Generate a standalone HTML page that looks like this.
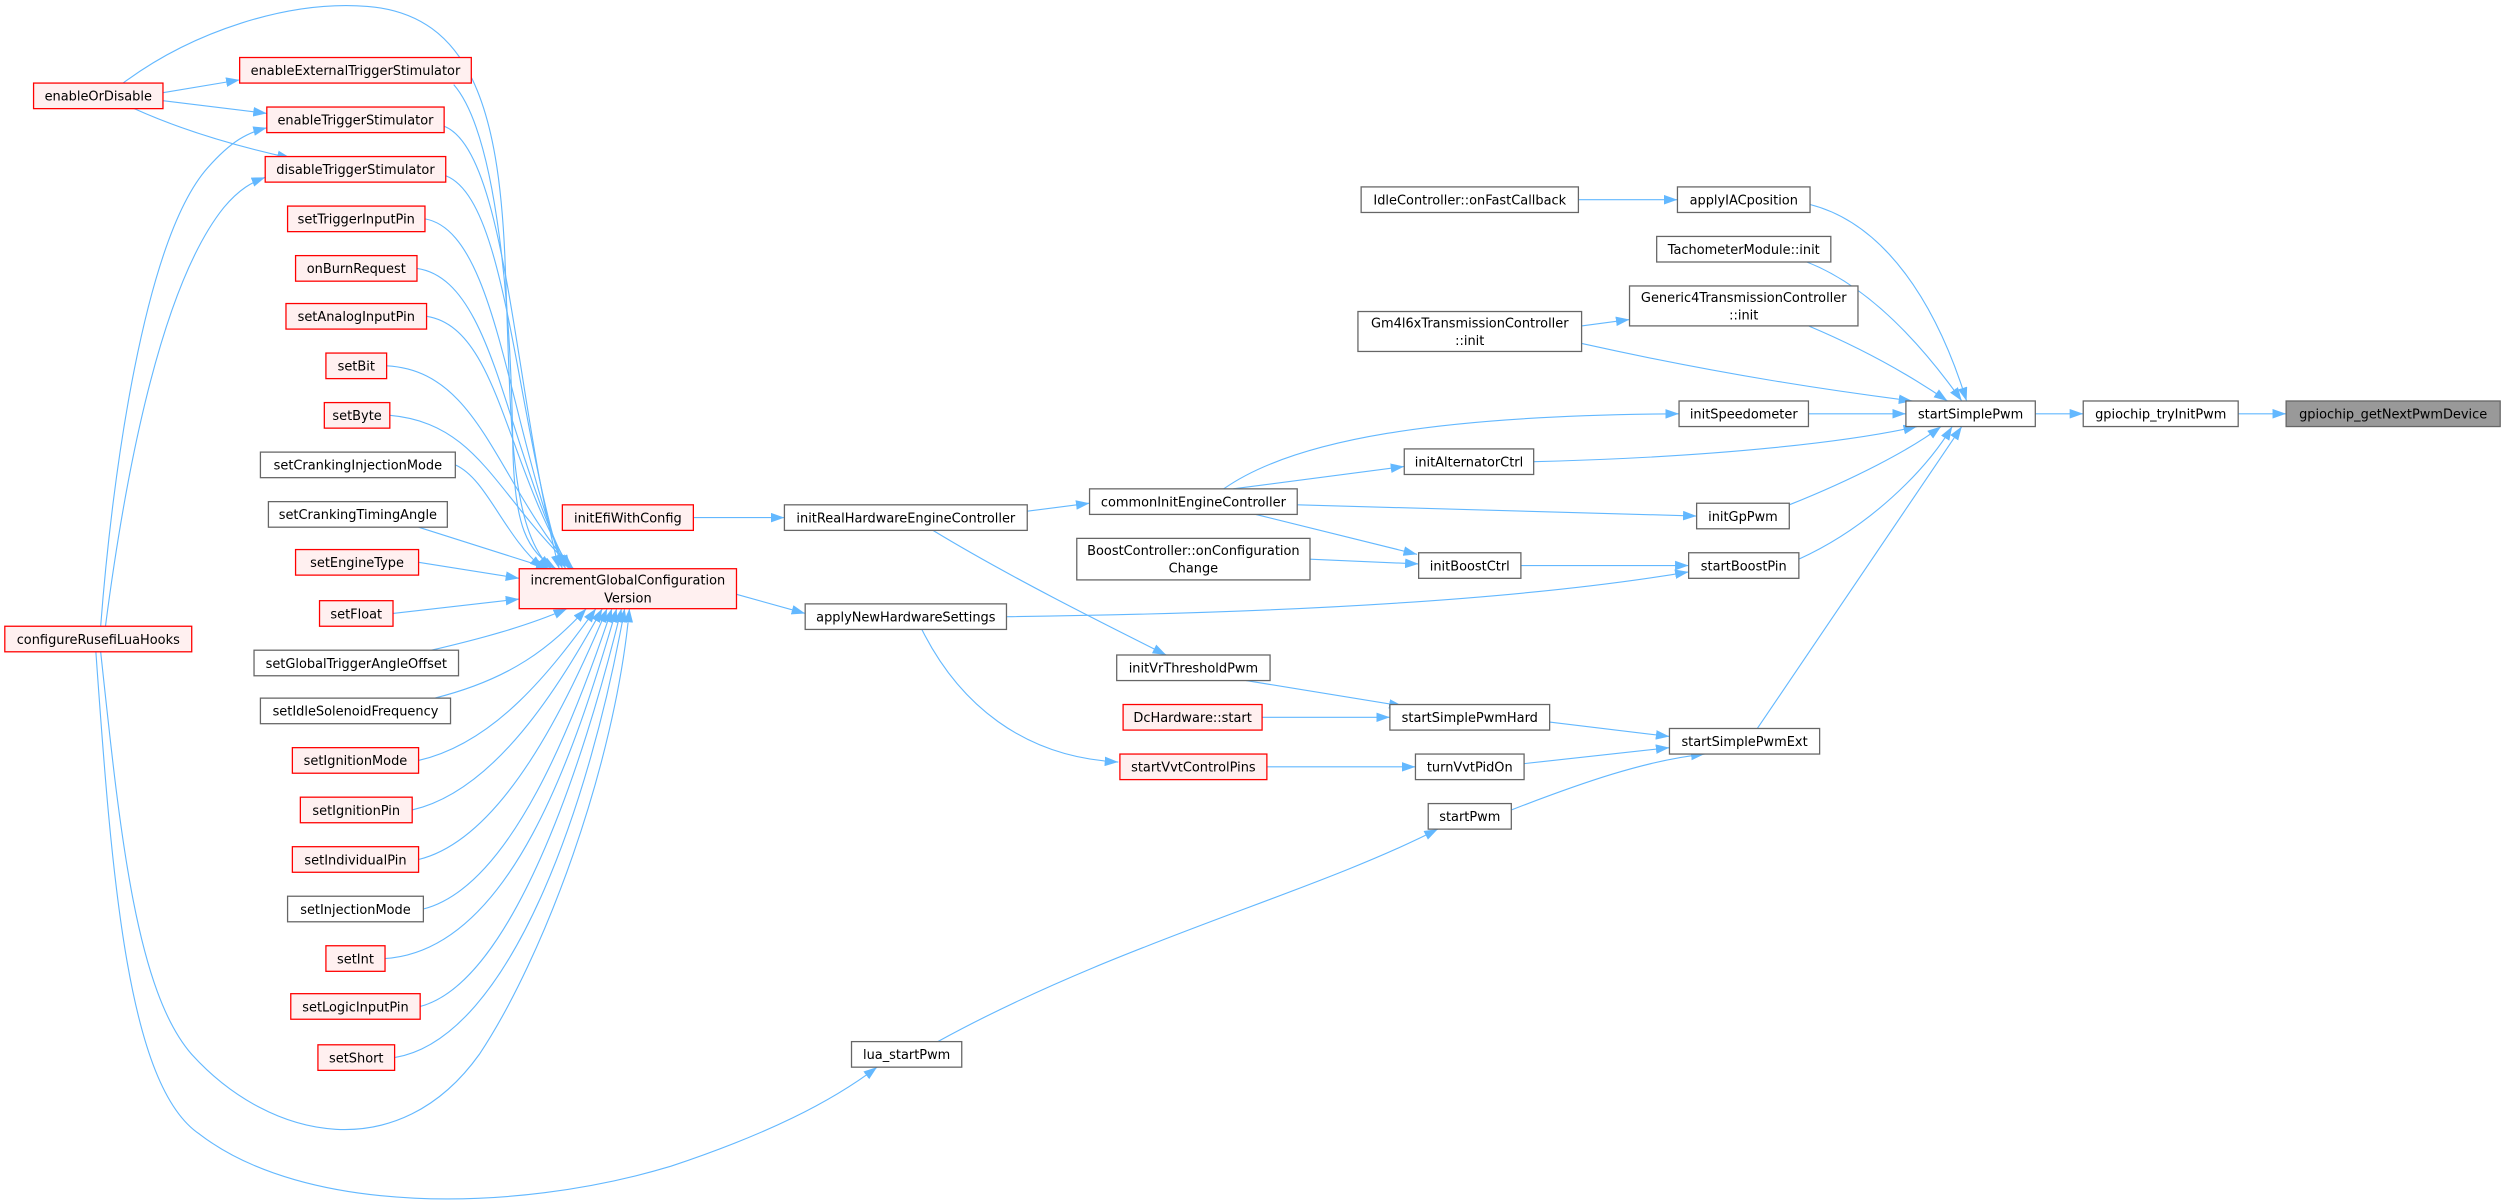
<!DOCTYPE html>
<html><head><meta charset="utf-8">
<style>
html,body{margin:0;padding:0;background:#fff;}
svg{display:block;}
text{font-family:"DejaVu Sans","Liberation Sans",sans-serif;font-size:8.1px;fill:#000;text-anchor:middle;}
.e{fill:none;stroke:#63b8ff;stroke-width:0.7;marker-end:url(#a);}
.r{fill:#fff0f0;stroke:#ff0000;stroke-width:0.8;}
.g{fill:#fff;stroke:#666;stroke-width:0.8;}
.h{fill:#999;stroke:#666;stroke-width:0.8;}
</style></head>
<body>
<svg width="2505" height="1202" viewBox="0 0 1568 752.4" xmlns="http://www.w3.org/2000/svg">
<defs>
<marker id="a" markerUnits="userSpaceOnUse" markerWidth="9" markerHeight="6" refX="8.5" refY="3" orient="auto">
<path d="M0,0 L8.5,3 L0,6 z" fill="#63b8ff"/>
</marker>
</defs>

<!-- edges -->
<path class="e" d="M102,58 L150,50"/>
<path class="e" d="M102,63 L167,71"/>
<path class="e" d="M84,68 C115,82 150,92 182,99"/>
<path class="e" d="M77,52 C120,20 180,0 230,4 C295,9 312,70 316,160 C320,260 318,330 345,356"/>
<path class="e" d="M284,53 C312,85 320,200 321,280 C322,330 330,345 348,356"/>
<path class="e" d="M278,79 C318,95 322,250 350,356"/>
<path class="e" d="M279,110 C318,125 322,260 352,356"/>
<path class="e" d="M266,137 C312,145 318,270 354,356"/>
<path class="e" d="M261,168 C310,175 316,280 356,356"/>
<path class="e" d="M267,198 C312,205 316,290 357,356"/>
<path class="e" d="M242,229 C300,232 310,300 358,356"/>
<path class="e" d="M244,260 C300,265 310,310 359,356"/>
<path class="e" d="M285,291 C305,300 315,335 340,356"/>
<path class="e" d="M262,330 L344,356"/>
<path class="e" d="M262,352 L325,362"/>
<path class="e" d="M246,384 L325,375"/>
<path class="e" d="M270,407 C300,400 330,392 355,381"/>
<path class="e" d="M272,437 C320,425 345,405 367,381"/>
<path class="e" d="M262,476 C310,465 345,420 373,381"/>
<path class="e" d="M258,507 C310,495 350,430 377,381"/>
<path class="e" d="M262,538 C315,525 355,440 380,381"/>
<path class="e" d="M265,569 C320,555 360,450 383,381"/>
<path class="e" d="M241,600 C320,595 360,470 386,381"/>
<path class="e" d="M263,630 C320,615 365,480 389,381"/>
<path class="e" d="M247,662 C320,650 370,500 391,381"/>
<path class="e" d="M63,408 C75,520 85,620 120,660 C170,715 250,730 300,660 C340,600 385,480 394,381"/>
<path class="e" d="M60,408 C70,550 80,680 125,710 C190,760 320,760 420,730 C480,710 520,690 549,668"/>
<path class="e" d="M63,392 C70,300 90,150 130,105 C145,88 155,83 167,80"/>
<path class="e" d="M66,392 C78,300 100,180 140,130 C150,118 158,114 166,111"/>

<path class="e" d="M461,372 L504,384"/>
<path class="e" d="M434,324 L491,324"/>
<path class="e" d="M643,320 L682,315"/>
<path class="e" d="M584,332 C630,360 690,390 730,410"/>
<path class="e" d="M577,394 C600,440 640,474 700,477"/>
<path class="e" d="M630,386 C800,384 950,376 1057,358"/>
<path class="e" d="M766,306 C810,275 900,260 1051,259"/>
<path class="e" d="M772,306 L879,292"/>
<path class="e" d="M812,316 L1062,323"/>
<path class="e" d="M786,322 L887,347"/>
<path class="e" d="M820,350 L888,353"/>
<path class="e" d="M952,354 L1057,354"/>
<path class="e" d="M780,426 L878,442"/>
<path class="e" d="M790,449 L870,449"/>
<path class="e" d="M793,480 L886,480"/>
<path class="e" d="M970,452 L1045,461"/>
<path class="e" d="M954,478 L1045,468"/>
<path class="e" d="M946,507 C990,490 1030,476 1067,472"/>
<path class="e" d="M587,652 C700,590 820,560 900,519"/>
<path class="e" d="M988,125 L1050,125"/>
<path class="e" d="M1133,128 C1180,140 1212,190 1231,251"/>
<path class="e" d="M1131,164 C1172,180 1206,220 1228,251"/>
<path class="e" d="M1132,204 C1170,220 1200,238 1219,251"/>
<path class="e" d="M990,215 C1080,235 1150,245 1197,251"/>
<path class="e" d="M990,204 L1020,200"/>
<path class="e" d="M1132,259 L1193,259"/>
<path class="e" d="M960,289 C1080,286 1160,276 1200,267"/>
<path class="e" d="M1120,316 C1160,300 1195,282 1215,267"/>
<path class="e" d="M1126,350 C1170,330 1205,295 1222,267"/>
<path class="e" d="M1100,456 L1228,267"/>
<path class="e" d="M1274,259 L1304,259"/>
<path class="e" d="M1401,259 L1431,259"/>

<!-- nodes -->
<rect class="r" x="21" y="52" width="81" height="16"/><text x="61.5" y="63">enableOrDisable</text>
<rect class="r" x="150" y="36" width="145" height="16"/><text x="222.5" y="47">enableExternalTriggerStimulator</text>
<rect class="r" x="167" y="67" width="111" height="16"/><text x="222.5" y="78">enableTriggerStimulator</text>
<rect class="r" x="166" y="98" width="113" height="16"/><text x="222.5" y="109">disableTriggerStimulator</text>
<rect class="r" x="180" y="129" width="86" height="16"/><text x="223" y="140">setTriggerInputPin</text>
<rect class="r" x="185" y="160" width="76" height="16"/><text x="223" y="171">onBurnRequest</text>
<rect class="r" x="179" y="190" width="88" height="16"/><text x="223" y="201">setAnalogInputPin</text>
<rect class="r" x="204" y="221" width="38" height="16"/><text x="223" y="232">setBit</text>
<rect class="r" x="203" y="252" width="41" height="16"/><text x="223.5" y="263">setByte</text>
<rect class="g" x="163" y="283" width="122" height="16"/><text x="224" y="294">setCrankingInjectionMode</text>
<rect class="g" x="168" y="314" width="112" height="16"/><text x="224" y="325">setCrankingTimingAngle</text>
<rect class="r" x="185" y="344" width="77" height="16"/><text x="223.5" y="355">setEngineType</text>
<rect class="r" x="200" y="376" width="46" height="16"/><text x="223" y="387">setFloat</text>
<rect class="g" x="159" y="407" width="128" height="16"/><text x="223" y="418">setGlobalTriggerAngleOffset</text>
<rect class="g" x="163" y="437" width="119" height="16"/><text x="222.5" y="448">setIdleSolenoidFrequency</text>
<rect class="r" x="183" y="468" width="79" height="16"/><text x="222.5" y="479">setIgnitionMode</text>
<rect class="r" x="188" y="499" width="70" height="16"/><text x="223" y="510">setIgnitionPin</text>
<rect class="r" x="183" y="530" width="79" height="16"/><text x="222.5" y="541">setIndividualPin</text>
<rect class="g" x="180" y="561" width="85" height="16"/><text x="222.5" y="572">setInjectionMode</text>
<rect class="r" x="204" y="592" width="37" height="16"/><text x="222.5" y="603">setInt</text>
<rect class="r" x="182" y="622" width="81" height="16"/><text x="222.5" y="633">setLogicInputPin</text>
<rect class="r" x="199" y="654" width="48" height="16"/><text x="223" y="665">setShort</text>
<rect class="r" x="3" y="392" width="117" height="16"/><text x="61.5" y="403">configureRusefiLuaHooks</text>

<rect class="r" x="325" y="356" width="136" height="25"/><text x="393" y="366">incrementGlobalConfiguration</text><text x="393" y="377">Version</text>
<rect class="r" x="352" y="316" width="82" height="16"/><text x="393" y="327">initEfiWithConfig</text>
<rect class="g" x="491" y="316" width="152" height="16"/><text x="567" y="327">initRealHardwareEngineController</text>
<rect class="g" x="504" y="378" width="126" height="16"/><text x="567" y="389">applyNewHardwareSettings</text>
<rect class="g" x="533" y="652" width="69" height="16"/><text x="567.5" y="663">lua_startPwm</text>

<rect class="g" x="682" y="306" width="130" height="16"/><text x="747" y="317">commonInitEngineController</text>
<rect class="g" x="674" y="337" width="146" height="26"/><text x="747" y="347.5">BoostController::onConfiguration</text><text x="747" y="358.5">Change</text>
<rect class="g" x="699" y="410" width="96" height="16"/><text x="747" y="421">initVrThresholdPwm</text>
<rect class="r" x="703" y="441" width="87" height="16"/><text x="746.5" y="452">DcHardware::start</text>
<rect class="r" x="701" y="472" width="92" height="16"/><text x="747" y="483">startVvtControlPins</text>

<rect class="g" x="852" y="117" width="136" height="16"/><text x="920" y="128">IdleController::onFastCallback</text>
<rect class="g" x="850" y="195" width="140" height="25"/><text x="920" y="205">Gm4l6xTransmissionController</text><text x="920" y="216">::init</text>
<rect class="g" x="879" y="281" width="81" height="16"/><text x="919.5" y="292">initAlternatorCtrl</text>
<rect class="g" x="888" y="346" width="64" height="16"/><text x="920" y="357">initBoostCtrl</text>
<rect class="g" x="870" y="441" width="100" height="16"/><text x="920" y="452">startSimplePwmHard</text>
<rect class="g" x="886" y="472" width="68" height="16"/><text x="920" y="483">turnVvtPidOn</text>
<rect class="g" x="894" y="503" width="52" height="16"/><text x="920" y="514">startPwm</text>

<rect class="g" x="1050" y="117" width="83" height="16"/><text x="1091.5" y="128">applyIACposition</text>
<rect class="g" x="1037" y="148" width="109" height="16"/><text x="1091.5" y="159">TachometerModule::init</text>
<rect class="g" x="1020" y="179" width="143" height="25"/><text x="1091.5" y="189">Generic4TransmissionController</text><text x="1091.5" y="200">::init</text>
<rect class="g" x="1051" y="251" width="81" height="16"/><text x="1091.5" y="262">initSpeedometer</text>
<rect class="g" x="1062" y="315" width="58" height="16"/><text x="1091" y="326">initGpPwm</text>
<rect class="g" x="1057" y="346" width="69" height="16"/><text x="1091.5" y="357">startBoostPin</text>
<rect class="g" x="1045" y="456" width="94" height="16"/><text x="1092" y="467">startSimplePwmExt</text>

<rect class="g" x="1193" y="251" width="81" height="16"/><text x="1233.5" y="262">startSimplePwm</text>
<rect class="g" x="1304" y="251" width="97" height="16"/><text x="1352.5" y="262">gpiochip_tryInitPwm</text>
<rect class="h" x="1431" y="251" width="134" height="16"/><text x="1498" y="262">gpiochip_getNextPwmDevice</text>
</svg>
</body></html>
